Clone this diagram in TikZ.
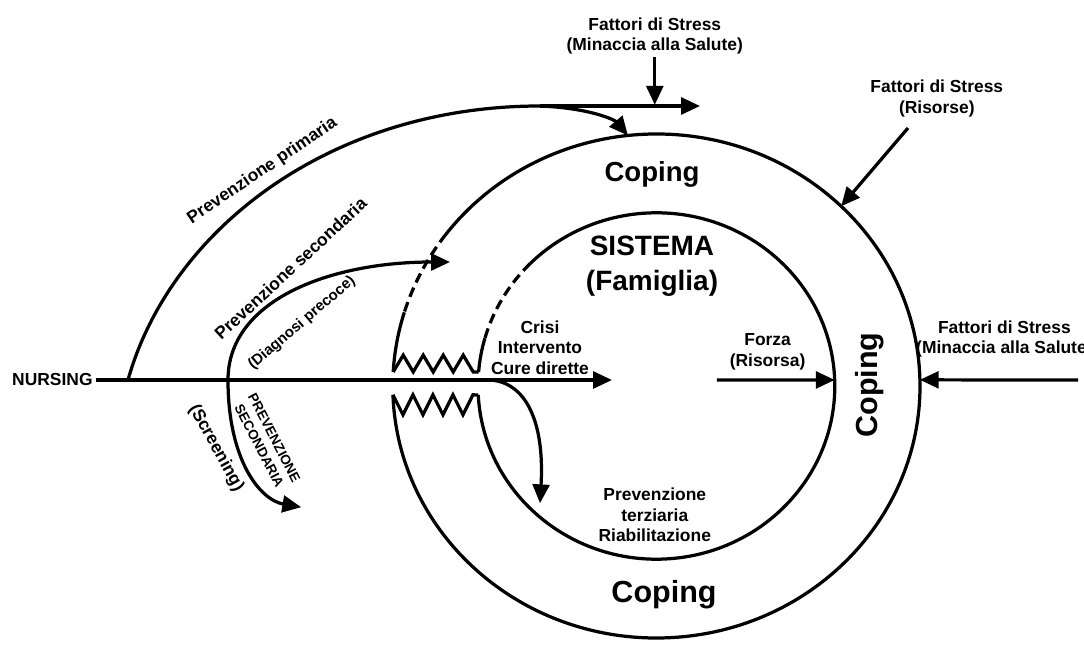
\documentclass[tikz,border=0pt]{standalone}
\usepackage{fontspec}
\setmainfont{Liberation Sans}
\usepackage{xcolor}
\definecolor{ink}{HTML}{000000}
\usetikzlibrary{arrows.meta}

\begin{document}
\begin{tikzpicture}[line width=2.3pt, color=ink,
    every node/.style={font=\bfseries\fontsize{12.4}{14.6}\selectfont,
      align=center, inner sep=1pt},
    arr/.style={-{Triangle[length=0.47cm,width=0.42cm]}},
    biarr/.style={{Triangle[length=0.47cm,width=0.42cm]}-{Triangle[length=0.47cm,width=0.42cm]}},
    dashring/.style={dash pattern=on 0.25cm off 0.14cm},
    coping/.style={font=\bfseries\fontsize{21.7}{24}\selectfont},
    sysname/.style={font=\bfseries\fontsize{19.9}{24.9}\selectfont},
    note/.style={font=\bfseries\fontsize{10.7}{12.5}\selectfont},
    caps/.style={font=\bfseries\fontsize{9.7}{12}\selectfont}]
    \useasboundingbox (-16.41,-6.55) rectangle (10.69,9.65);

    % outer ring (coping)
    \draw (182:6.59 and 6.3) arc[start angle=182, end angle=503, x radius=6.59, y radius=6.3];
    \draw[dashring] (143:6.59 and 6.3) arc[start angle=143, end angle=163, x radius=6.59, y radius=6.3];
    \draw (163:6.59 and 6.3) arc[start angle=163, end angle=176.8, x radius=6.59, y radius=6.3];
    % inner ring (sistema)
    \draw (183:4.46 and 4.33) arc[start angle=183, end angle=495, x radius=4.46, y radius=4.33];
    \draw[dashring] (135:4.46 and 4.33) arc[start angle=135, end angle=164, x radius=4.46, y radius=4.33];
    \draw (164:4.46 and 4.33) arc[start angle=164, end angle=175.4, x radius=4.46, y radius=4.33];

    % zigzags between the rings
    \coordinate (zigTA) at (176.8:6.59 and 6.3);
    \coordinate (zigTB) at (175.4:4.46 and 4.33);
    \coordinate (zigBA) at (182:6.59 and 6.3);
    \coordinate (zigBB) at (183:4.46 and 4.33);
    \draw (zigTA) \foreach \k in {1,...,4} {-- ++(0.25,0.42) -- ++(0.25,-0.42)} -- (zigTB);
    \draw (zigBA) \foreach \k in {1,...,4} {-- ++(0.25,-0.5) -- ++(0.25,0.5)} -- (zigBB);

    % nursing line
    \node (nursing) at (-15.1,0.15) {NURSING};
    \coordinate (crisitip) at (-1.11,0.15);
    \draw[arr] (nursing.east) -- (crisitip);

    % prevenzione primaria
    \coordinate (primstart) at (-13.21,0.15);
    \coordinate (split) at (-2.91,7.0);
    \coordinate (toptip) at (1.09,7.0);
    \coordinate (coptop) at (96.2:6.59 and 6.3);
    \draw (primstart) .. controls (-12.16,3.9) and (-8.16,7.0) .. (split);
    \draw[arr] (split) -- (toptip);
    \draw[arr] (split) .. controls (-1.66,6.95) and (-1.04,6.65) .. (coptop);
    \node (stresstop) at (-0.04,8.75) {Fattori di Stress\\(Minaccia alla Salute)};
    \coordinate (hit) at (-0.04,7.03);
    \draw[arr] (stresstop) -- (hit);

    % prevenzione secondaria
    \coordinate (seclow) at (-8.88,-3.03);
    \coordinate (secmid) at (-10.71,0.15);
    \coordinate (sechigh) at (-5.16,3.1);
    \draw[biarr] (seclow) .. controls (-9.91,-2.85) and (-10.71,-1.85) .. (secmid)
      .. controls (-10.71,2.15) and (-8.16,3.1) .. (sechigh);

    % prevenzione terziaria
    \coordinate (terstart) at (-4.16,0.15);
    \coordinate (tertip) at (-2.91,-2.93);
    \draw[arr] (terstart) .. controls (-3.29,0.1) and (-2.79,-0.85) .. (tertip);

    % right side
    \coordinate (innerR) at (2:4.46 and 4.33);
    \coordinate (outerR) at (1.4:6.59 and 6.3);
    \coordinate (forzastart) at (1.51,0.15);
    \draw[arr] (forzastart) -- (innerR);
    \coordinate (stressRstart) at (10.54,0.15);
    \draw[arr] (stressRstart) -- (outerR);
    \coordinate (risstart) at (6.29,6.45);
    \coordinate (ristip) at (45.5:6.59 and 6.3);
    \draw[arr] (risstart) -- (ristip);

    % labels
    \node[coping, font=\bfseries\fontsize{19.6}{22}\selectfont] (copingT) at (-0.11,5.3) {Coping};
    \node[coping] (copingB) at (0.19,-5.21) {Coping};
    \node[coping, rotate=90] (copingR) at (5.32,0.025) {Coping};
    \node[sysname] (sistema) at (-0.11,3.0) {SISTEMA\\(Famiglia)};
    \node (crisi) at (-2.91,0.96) {Crisi\\Intervento\\Cure dirette};
    \node (forza) at (2.78,0.86) {Forza\\(Risorsa)};
    \node (terziaria) at (-0.04,-3.225) {Prevenzione\\terziaria\\Riabilitazione};
    \node (stressris) at (7.01,7.19) {Fattori di Stress\\(Risorse)};
    \node (stressR) at (8.7,1.175) {Fattori di Stress\\(Minaccia alla Salute)};
    \node[rotate=34] (primaria) at (-9.85,5.375) {Prevenzione primaria};
    \node[rotate=42.7] (secondaria) at (-9.15,2.94) {Prevenzione secondaria};
    \node[note, rotate=40.6] (diagnosi) at (-8.86,1.575) {(Diagnosi precoce)};
    \node[rotate=-61] (screening) at (-11.01,-1.55) {(Screening)};
    \node[caps, rotate=-62.6] (prevsec) at (-9.74,-1.4) {PREVENZIONE\\SECONDARIA};
  \end{tikzpicture}
\end{document}
